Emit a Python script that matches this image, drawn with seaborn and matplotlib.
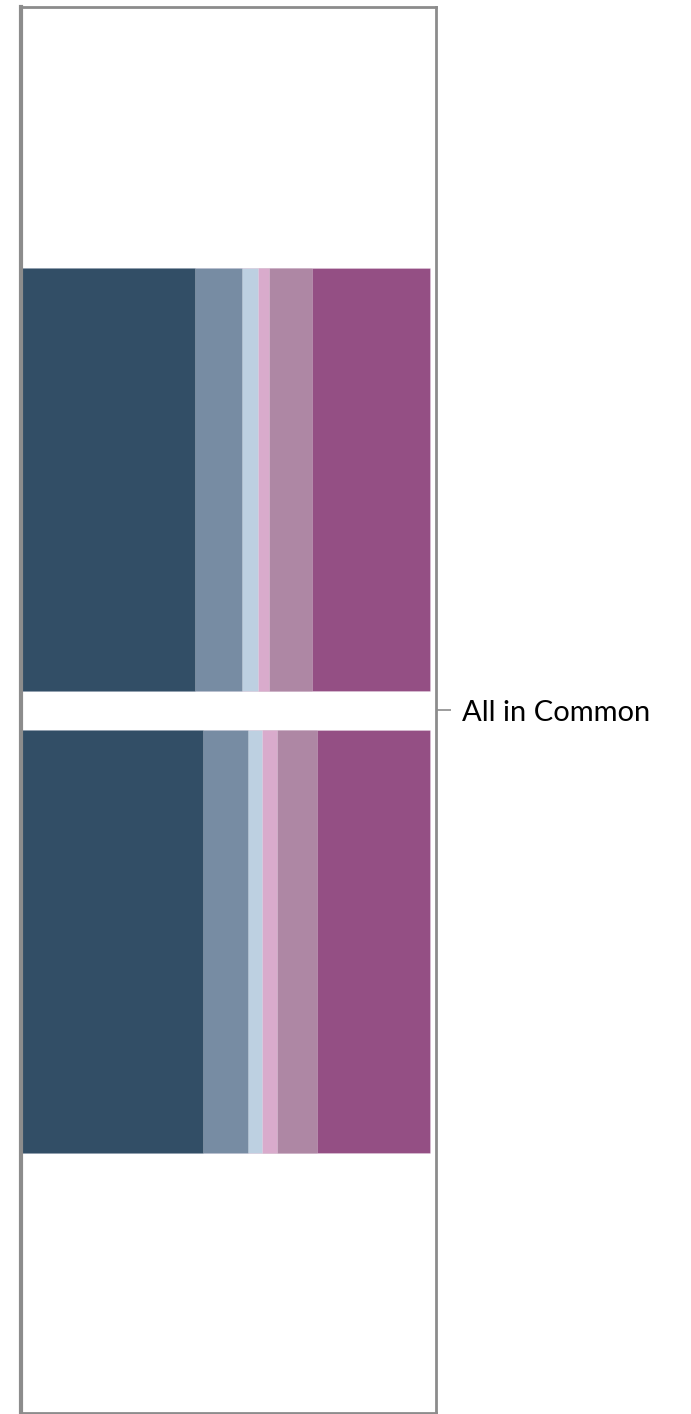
import numpy as np
import pandas as pd
import seaborn as sns
import matplotlib.pyplot as plt

category = "All in Common"
groups = ["Group 1", "Group 2"]
# share of each segment, left to right (percent)
top_shares = [42.5, 11.6, 3.9, 2.6, 10.5, 28.9]
bottom_shares = [44.5, 10.9, 3.6, 3.5, 9.8, 27.7]
segment_colors = ["#324e66", "#778ca3", "#bdd0e1", "#d9abcc", "#ae87a4", "#944f84"]

sns.set_theme(style="white")
plt.rcParams['font.family'] = ['Lato', 'DejaVu Sans']

fig = plt.figure(figsize=(6.91, 14.14), dpi=100)
ax = fig.add_axes([0.0304, 0.0007, 0.6006, 0.994])

shares = np.array([top_shares, bottom_shares]) / 100
cum = shares.cumsum(axis=1)

# draw stacked bars from the widest cumulative down so each segment shows
for i in range(len(segment_colors) - 1, -1, -1):
    df = pd.DataFrame({"cat": [category] * 2, "group": groups, "value": cum[:, i]})
    sns.barplot(data=df, x="value", y="cat", hue="group", orient="h",
                palette=[segment_colors[i]] * 2, saturation=1,
                width=0.8, gap=0.084,
                edgecolor=(1, 1, 1, 0.25), linewidth=0.6, errorbar=None,
                legend=False, ax=ax)

ax.set_xlim(0, 1.014)
ax.set_ylim(0.6085, -0.6085)
ax.set_xlabel("")
ax.set_ylabel("")
ax.set_xticks([])

for side, spine in ax.spines.items():
    spine.set_visible(True)
    spine.set_color("#8c8c8c")
    spine.set_linewidth(3 if side == "left" else 2)

ax.yaxis.tick_right()
ax.tick_params(axis="y", right=True, labelright=True, left=False, labelleft=False,
               length=11, width=1.2, color="#8c8c8c", pad=8,
               labelsize=21, labelcolor="black")

fig.savefig("out.png", dpi=100)
